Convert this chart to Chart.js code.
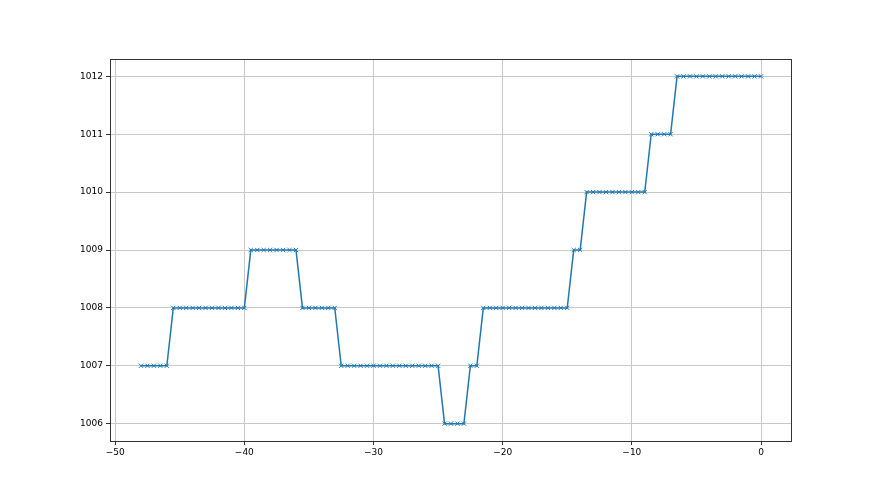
<!DOCTYPE html>
<html>
<head>
<meta charset="utf-8">
<script src="https://cdn.jsdelivr.net/npm/chart.js@4/dist/chart.umd.min.js"></script>
<style>
  html, body { margin: 0; padding: 0; background: #fff; }
  #wrap { width: 880px; height: 495px; position: relative; }
</style>
</head>
<body>
<div id="wrap"><canvas id="pressureChart"></canvas></div>
<script>
// hours relative to now, one reading every half hour
const hours = [
  -48, -47.5, -47, -46.5, -46, -45.5, -45, -44.5, -44, -43.5, -43, -42.5,
  -42, -41.5, -41, -40.5, -40, -39.5, -39, -38.5, -38, -37.5, -37, -36.5,
  -36, -35.5, -35, -34.5, -34, -33.5, -33, -32.5, -32, -31.5, -31, -30.5,
  -30, -29.5, -29, -28.5, -28, -27.5, -27, -26.5, -26, -25.5, -25, -24.5,
  -24, -23.5, -23, -22.5, -22, -21.5, -21, -20.5, -20, -19.5, -19, -18.5,
  -18, -17.5, -17, -16.5, -16, -15.5, -15, -14.5, -14, -13.5, -13, -12.5,
  -12, -11.5, -11, -10.5, -10, -9.5, -9, -8.5, -8, -7.5, -7, -6.5,
  -6, -5.5, -5, -4.5, -4, -3.5, -3, -2.5, -2, -1.5, -1, -0.5, 0
];

const pressure = [
  1007, 1007, 1007, 1007, 1007,
  1008, 1008, 1008, 1008, 1008, 1008, 1008, 1008, 1008, 1008, 1008, 1008,
  1009, 1009, 1009, 1009, 1009, 1009, 1009, 1009,
  1008, 1008, 1008, 1008, 1008, 1008,
  1007, 1007, 1007, 1007, 1007, 1007, 1007, 1007, 1007, 1007, 1007, 1007, 1007, 1007, 1007, 1007,
  1006, 1006, 1006, 1006,
  1007, 1007,
  1008, 1008, 1008, 1008, 1008, 1008, 1008, 1008, 1008, 1008, 1008, 1008, 1008, 1008,
  1009, 1009,
  1010, 1010, 1010, 1010, 1010, 1010, 1010, 1010, 1010, 1010,
  1011, 1011, 1011, 1011,
  1012, 1012, 1012, 1012, 1012, 1012, 1012, 1012, 1012, 1012, 1012, 1012, 1012, 1012
];

const xTicks = [-50, -40, -30, -20, -10, 0];
const yTicks = [1006, 1007, 1008, 1009, 1010, 1011, 1012];

const tickFont = { family: "DejaVu Sans", size: 9 };

// full box around the plot, like a matplotlib axes frame
const frame = {
  id: "frame",
  afterDraw(chart) {
    const { ctx, chartArea: a } = chart;
    ctx.save();
    ctx.strokeStyle = "#333";
    ctx.lineWidth = 1;
    ctx.strokeRect(a.left + 0.5, a.top + 0.5, a.right - a.left - 1, a.bottom - a.top);
    ctx.restore();
  }
};

new Chart(document.getElementById("pressureChart"), {
  type: "line",
  data: {
    datasets: [{
      label: "pressure",
      data: hours.map((h, i) => ({ x: h, y: pressure[i] })),
      borderColor: "#1f77b4",
      backgroundColor: "#1f77b4",
      borderWidth: 1.5,
      pointStyle: "crossRot",
      pointRadius: 3,
      pointBorderWidth: 1,
      pointBorderColor: "#1f77b4",
      tension: 0,
      fill: false
    }]
  },
  options: {
    responsive: true,
    maintainAspectRatio: false,
    animation: false,
    layout: { padding: { left: 0, top: 59, right: 88, bottom: 0 } },
    scales: {
      x: {
        type: "linear",
        min: -50.4,
        max: 2.4,
        afterBuildTicks: s => { s.ticks = xTicks.map(v => ({ value: v })); },
        afterFit: s => { s.height = 54; },
        ticks: { color: "#000", font: tickFont, padding: 2, maxRotation: 0,
                 callback: v => String(v).replace("-", "\u2212") },
        grid: { color: "#c8c8c8", lineWidth: 1, tickLength: 4, tickColor: "#333" },
        border: { display: false }
      },
      y: {
        min: 1005.7,
        max: 1012.3,
        afterBuildTicks: s => { s.ticks = yTicks.map(v => ({ value: v })); },
        afterFit: s => { s.width = 110; },
        ticks: { color: "#000", font: tickFont, padding: 3, callback: v => String(v) },
        grid: { color: "#c8c8c8", lineWidth: 1, tickLength: 4, tickColor: "#333" },
        border: { display: false }
      }
    },
    plugins: {
      legend: { display: false },
      tooltip: { enabled: false }
    }
  },
  plugins: [frame]
});
</script>
</body>
</html>
